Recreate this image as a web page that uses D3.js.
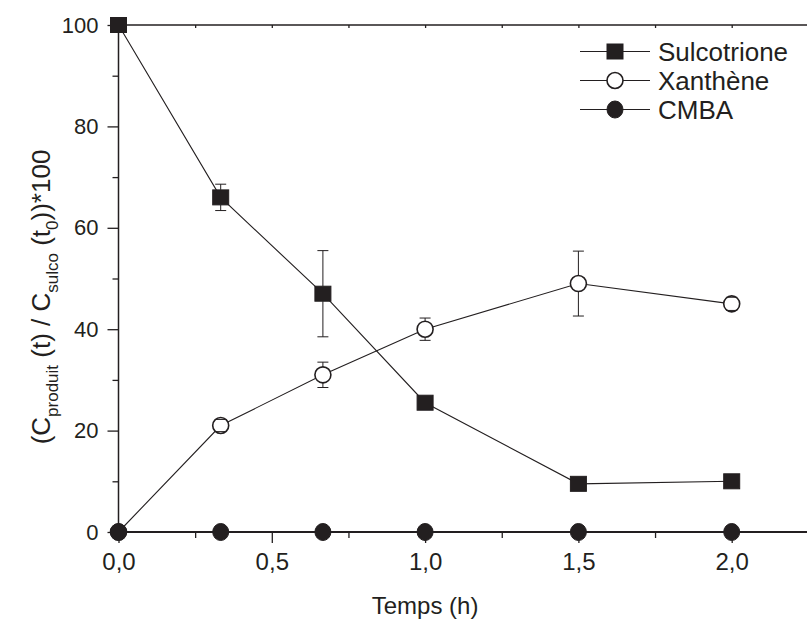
<!DOCTYPE html>
<html><head><meta charset="utf-8">
<script src="https://cdn.jsdelivr.net/npm/d3@7"></script>
<style>body{margin:0;background:#fff} svg{display:block}</style>
</head><body><svg id="c" width="807" height="621"></svg>
<script>
const times = [0, 1/3, 2/3, 1, 1.5, 2];
const sulcotrione = [100, 66, 47, 25.5, 9.5, 10];
const sulcoErr = [0, 2.6, 8.5, 0, 0, 0];
const xanthene = [0, 21, 31, 40, 49, 45];
const xanthErr = [0, 1.2, 2.5, 2.2, 6.4, 1.3];
const cmba = [0, 0, 0, 0, 0, 0];
const cmbaErr = [0, 0, 0, 0, 0, 0];
const seriesNames = ["Sulcotrione", "Xanthène", "CMBA"];
const xTickValues = [0, 0.5, 1, 1.5, 2];
const xMinorTicks = [0.25, 0.75, 1.25, 1.75];
const yTickValues = [0, 20, 40, 60, 80, 100];
const yMinorTicks = [10, 30, 50, 70, 90];
const xLabel = "Temps (h)";

const ink = "#231f20";
const font = "'Liberation Sans', Arial, Helvetica, sans-serif";
const svg = d3.select("#c");
svg.append("rect").attr("width", 807).attr("height", 621).attr("fill", "#fff");

const x = d3.scaleLinear().domain([0, 2]).range([118.5, 731.7]);
const y = d3.scaleLinear().domain([0, 100]).range([532, 25]);
const xEnd = 807;

function styleAxis(size) {
  return g => {
    g.select(".domain").remove();
    g.selectAll("line").attr("stroke", ink).attr("stroke-width", 1.3);
    g.selectAll("text").attr("fill", ink).attr("font-family", font).attr("font-size", size);
  };
}
const fmt = d => d3.format(".1f")(d).replace(".", ",");
svg.append("g").attr("transform", `translate(0,${y(0)})`)
  .call(d3.axisBottom(x).tickValues(xTickValues).tickSize(11).tickPadding(10).tickFormat(fmt)).call(styleAxis(24));
svg.append("g").attr("transform", `translate(0,${y(0)})`)
  .call(d3.axisBottom(x).tickValues(xMinorTicks).tickSize(6).tickFormat("")).call(styleAxis(24));
svg.append("g").attr("transform", `translate(${x(0)},0)`)
  .call(d3.axisLeft(y).tickValues(yTickValues).tickSize(11).tickPadding(9).tickFormat(d3.format("d"))).call(styleAxis(22));
svg.append("g").attr("transform", `translate(${x(0)},0)`)
  .call(d3.axisLeft(y).tickValues(yMinorTicks).tickSize(6).tickFormat("")).call(styleAxis(22));
svg.append("g").attr("transform", `translate(0,${y(100)})`)
  .call(d3.axisTop(x).tickValues(xTickValues.concat(xMinorTicks)).tickSize(-3).tickFormat("")).call(styleAxis(22));

// frame lines
svg.append("line").attr("x1", x(0)).attr("x2", xEnd).attr("y1", y(0)).attr("y2", y(0)).attr("stroke", ink).attr("stroke-width", 2);
svg.append("line").attr("x1", x(0)).attr("x2", xEnd).attr("y1", y(100)).attr("y2", y(100)).attr("stroke", ink).attr("stroke-width", 1.5);
svg.append("line").attr("x1", x(0)).attr("x2", x(0)).attr("y1", y(100)).attr("y2", y(0)).attr("stroke", ink).attr("stroke-width", 1.5);

const series = [
  {name: seriesNames[0], vals: sulcotrione, err: sulcoErr, shape: "square", fill: ink},
  {name: seriesNames[1], vals: xanthene, err: xanthErr, shape: "circle", fill: "#fff"},
  {name: seriesNames[2], vals: cmba, err: cmbaErr, shape: "circle", fill: ink}
];
const line = d3.line().x(d => x(d[0])).y(d => y(d[1]));

function halfHeight(s) { return s.shape === "square" ? 7.5 : (s.fill === "#fff" ? 8 : 8.5); }
function drawMarker(g, s, cx, cy) {
  if (s.shape === "square") {
    g.append("rect").attr("x", cx - 8).attr("y", cy - 7.5).attr("width", 16).attr("height", 15)
      .attr("fill", s.fill).attr("stroke", ink).attr("stroke-width", 1);
  } else if (s.fill === "#fff") {
    g.append("ellipse").attr("cx", cx).attr("cy", cy).attr("rx", 8).attr("ry", 8)
      .attr("fill", "#fff").attr("stroke", ink).attr("stroke-width", 1.6);
  } else {
    g.append("ellipse").attr("cx", cx).attr("cy", cy).attr("rx", 8).attr("ry", 8.5)
      .attr("fill", s.fill).attr("stroke", ink).attr("stroke-width", 1);
  }
}

series.forEach(s => {
  const pts = times.map((t, i) => [t, s.vals[i], s.err[i]]);
  svg.append("path").datum(pts).attr("d", line).attr("fill", "none").attr("stroke", ink).attr("stroke-width", 1.1);
  const g = svg.append("g");
  pts.forEach(p => drawMarker(g, s, x(p[0]), y(p[1])));
  const hh = halfHeight(s);
  pts.forEach(p => {
    if (p[2] > 0) {
      const cx = x(p[0]), cy = y(p[1]);
      const top = y(p[1] + p[2]), bot = y(p[1] - p[2]);
      if (cy - top > hh) g.append("line").attr("x1", cx).attr("x2", cx).attr("y1", top).attr("y2", cy - hh).attr("stroke", ink).attr("stroke-width", 1);
      if (bot - cy > hh) g.append("line").attr("x1", cx).attr("x2", cx).attr("y1", cy + hh).attr("y2", bot).attr("stroke", ink).attr("stroke-width", 1);
      [top, bot].forEach(v => {
        g.append("line").attr("x1", cx - 5.5).attr("x2", cx + 5.5).attr("y1", v).attr("y2", v).attr("stroke", ink).attr("stroke-width", 1);
      });
    }
  });
});

// legend
const lg = svg.append("g");
series.forEach((s, i) => {
  const ly = 51.5 + i * 29;
  lg.append("line").attr("x1", 580).attr("x2", 650).attr("y1", ly).attr("y2", ly).attr("stroke", ink).attr("stroke-width", 1.1);
  drawMarker(lg, s, 615, ly);
  lg.append("text").attr("x", 658).attr("y", ly).attr("dy", "0.36em").attr("font-family", font).attr("font-size", 26)
    .attr("fill", ink).text(s.name);
});

// axis titles
svg.append("text").attr("x", x(1)).attr("y", 614).attr("text-anchor", "middle").attr("font-family", font)
  .attr("font-size", 24).attr("fill", ink).text(xLabel);

const yl = svg.append("text").attr("transform", "translate(50,297) rotate(-90)").attr("text-anchor", "middle")
  .attr("font-family", font).attr("font-size", 26).attr("fill", ink);
const parts = [["(C", 0], ["produit", 1], [" (t) / C", 0], ["sulco", 1], [" (t", 0], ["0", 1], ["))*100", 0]];
let prevSub = 0;
parts.forEach(([t, sub]) => {
  const ts = yl.append("tspan").text(t);
  if (sub) ts.attr("font-size", 17);
  const shift = sub ? 8 : 0;
  ts.attr("dy", shift - prevSub);
  prevSub = shift;
});
</script></body></html>
